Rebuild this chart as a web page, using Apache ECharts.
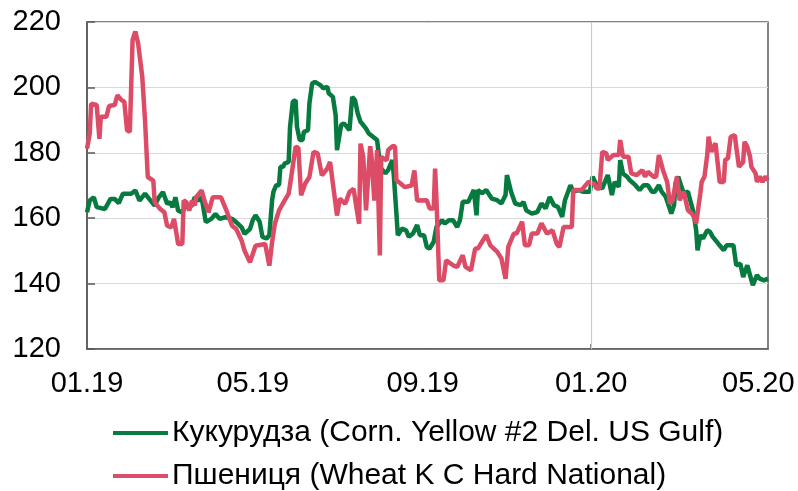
<!DOCTYPE html>
<html>
<head>
<meta charset="utf-8">
<title>Кукурудза та пшениця</title>
<script src="https://cdn.jsdelivr.net/npm/echarts@6/dist/echarts.min.js"></script>
<style>
  html, body { margin: 0; padding: 0; background: #fff; }
  #chart { width: 798px; height: 491px; }
</style>
</head>
<body>
<div id="chart"></div>
<script>
// days counted from 01.01.2019
const cornDays = [
  0, 2, 5, 7, 13, 17, 20, 23, 26, 32, 35, 38, 42, 46, 49, 52, 55, 58, 60, 62,
  64, 66, 69, 71, 76, 78, 81, 83, 86, 90, 93, 96, 100, 105, 108, 112, 114, 118, 120, 122,
  125, 127, 130, 132, 134, 135, 137, 139, 140, 142, 143, 146, 147, 149, 151, 152, 154, 156, 157, 160,
  161, 163, 165, 169, 171, 174, 175, 178, 180, 181, 182, 184, 186, 188, 190, 192, 194, 196, 198, 200,
  202, 204, 207, 210, 212, 213, 216, 218, 221, 222, 224, 225, 228, 231, 233, 236, 239, 241, 244, 246,
  248, 251, 253, 257, 259, 262, 265, 268, 270, 272, 276, 280, 282, 283, 286, 289, 293, 297, 300, 303,
  304, 307, 310, 314, 316, 318, 322, 326, 329, 332, 335, 338, 341, 344, 346, 350, 352, 356, 359, 364,
  366, 369, 373, 376, 377, 380, 382, 385, 386, 388, 391, 393, 397, 400, 403, 406, 409, 411, 414, 416,
  419, 421, 423, 425, 426, 428, 430, 432, 435, 437, 439, 441, 442, 444, 446, 449, 451, 453, 457, 461,
  463, 468, 470, 473, 475, 478, 480, 482, 485, 487, 490, 493
];
const cornValues = [
  161.8, 165.4, 166.4, 163.4, 162.8, 165.9, 165.9, 164.6, 167.5, 167.5, 168.5, 165.4, 167.5, 165.4, 163.9, 166.4, 168, 164.4, 164.9, 163.4,
  166.4, 162.3, 161.8, 163.4, 163.9, 166.4, 165.4, 166.4, 158.8, 159.8, 161.3, 159.8, 160.3, 159.8, 158.8, 157.2, 155.2, 156.7, 159.4, 160.9,
  158.9, 154.3, 153.8, 154.8, 165.5, 168.1, 170.1, 170.1, 175.7, 175.7, 176.7, 177.2, 188, 195.6, 196.1, 188, 183.9, 183.9, 186.4, 186.9,
  195.1, 201.2, 201.7, 200.7, 199.7, 200.2, 198.2, 197.1, 191.5, 180.8, 180.3, 188.5, 189, 188, 186.9, 197.1, 196.1, 192, 189.5, 188.5,
  187.4, 185.9, 184.9, 183.9, 176.7, 175.2, 173.7, 174.7, 177.8, 173.7, 161.4, 154.8, 156.8, 156.3, 154.3, 155.3, 157.9, 154.8, 154.8, 151.2,
  150.7, 152.8, 157.3, 159.4, 158.4, 159.4, 159.4, 157.3, 159.4, 165, 165, 168.6, 160.9, 168.6, 167.6, 168.6, 166, 165.5, 164.5, 167.1,
  173.2, 168.1, 164.5, 164, 165, 162.4, 161.4, 161.9, 164.5, 163, 166.5, 164, 163.4, 160.4, 165.5, 170.1, 168.1, 168.6, 168.1, 168.1,
  172.7, 170.1, 169.1, 172.2, 173.2, 167.1, 171.1, 169.6, 177.8, 173.7, 172.7, 171.6, 170.1, 168.6, 170.1, 170.1, 168.1, 168.1, 170.1, 168.1,
  166.5, 164, 161.4, 164, 170.6, 172.7, 170.1, 167.6, 168.1, 165, 161.9, 156.3, 150.2, 154.8, 153.8, 156.3, 155.8, 154.3, 152.2, 150.2,
  151.7, 151.7, 145.6, 146.1, 142, 145.6, 142.6, 139.5, 142.6, 141.5, 141, 141.5
];

const wheatDays = [
  0, 2, 3, 7, 9, 10, 14, 16, 20, 22, 25, 27, 29, 31, 33, 35, 37, 40, 42, 44,
  48, 49, 53, 56, 58, 61, 63, 66, 69, 70, 72, 74, 76, 78, 79, 83, 85, 88, 91, 97,
  101, 105, 108, 112, 114, 118, 122, 129, 132, 134, 136, 139, 143, 146, 148, 151, 153, 155, 158, 161,
  164, 167, 170, 174, 176, 178, 181, 183, 187, 190, 193, 195, 197, 198, 200, 202, 205, 206, 208, 210,
  212, 213, 217, 218, 221, 223, 224, 227, 230, 235, 237, 239, 246, 248, 251, 252, 253, 255, 258, 260,
  265, 268, 272, 274, 278, 281, 283, 286, 289, 292, 297, 300, 303, 305, 309, 311, 315, 316, 317, 320,
  322, 326, 329, 333, 337, 340, 342, 345, 351, 352, 358, 363, 367, 369, 371, 373, 376, 377, 381, 385,
  386, 388, 392, 394, 398, 402, 404, 406, 410, 412, 414, 417, 420, 422, 424, 427, 429, 432, 435, 438,
  440, 441, 444, 445, 447, 449, 450, 452, 453, 455, 457, 458, 461, 462, 464, 466, 469, 470, 472, 475,
  476, 478, 480, 481, 484, 485, 487, 489, 491, 493
];
const wheatValues = [
  181.3, 185.9, 195, 194.6, 184.3, 191, 191, 194.3, 194.6, 197.6, 196.1, 195.6, 186.9, 186.4, 214.5, 217.1, 213.5, 203.3, 190, 172.6,
  171.5, 164.9, 162.8, 161.8, 157.7, 157.2, 159.8, 152.1, 152.1, 165.4, 164.9, 162.3, 165.4, 163.9, 166.4, 168.5, 165.4, 161.8, 166.4, 166.4,
  162.3, 157.7, 156.7, 153.1, 150.1, 146.5, 151.6, 152.1, 145.5, 152.7, 158.3, 162.4, 165.4, 167.5, 173.1, 181.8, 181.6, 167, 170.6, 172.6,
  180.3, 179.8, 173.1, 175.2, 177.2, 170.6, 160.8, 166, 164.4, 168, 169, 163.4, 158.3, 182.8, 178.7, 162.4, 182, 178.7, 165.4, 180.8,
  148.6, 178.7, 177.7, 180.8, 182, 182, 171.6, 170.6, 169.5, 170, 174.6, 165.4, 165.5, 163, 163, 175.2, 165.5, 141, 141, 147.1,
  145.6, 145.1, 148.7, 145.1, 144.1, 150.7, 150.7, 152.8, 154.8, 151.7, 149.7, 147.7, 141.5, 151.2, 155.3, 155.3, 158.9, 159.4, 151.7, 151.7,
  155.3, 155.3, 158.4, 155.3, 156.3, 152.2, 151.2, 157.3, 157.3, 168.6, 168.6, 171.1, 170.6, 169.1, 169.1, 180.3, 179.8, 177.8, 179.3, 179.3,
  183.9, 178.8, 178.8, 173.7, 173.2, 174.7, 172.7, 174.2, 172.7, 172.7, 179.3, 174.7, 171.1, 164.5, 165.5, 172.7, 165.5, 168.1, 162.4, 161.4,
  159.9, 158.4, 167.6, 171.1, 172.7, 179.3, 184.9, 180.3, 180.8, 182.9, 175.2, 171.1, 171.1, 177.8, 178.3, 184.9, 185.4, 181.8, 175.7, 177.2,
  183.4, 181.8, 178.8, 175.7, 173.7, 171.1, 172.7, 171.1, 172.7, 171.6
];

const seriesNames = [
  "Кукурудза (Corn. Yellow #2 Del. US Gulf)",
  "Пшениця (Wheat K C Hard National)"
];
// 01.19, 05.19, 09.19, 01.20, 05.20 as days from 01.01.2019
const labelDays = [0, 120, 243, 365, 486];
const yearMarkDay = 365;
const lastDay = 493;

const dayToDate = (n) => new Date(2019, 0, 1 + n);

const cornData = cornDays.map((d, i) => [d, cornValues[i]]);
const wheatData = wheatDays.map((d, i) => [d, wheatValues[i]]);

const font = "'Liberation Sans', Arial, sans-serif";
const frameColor = "#595959";
const cornColor = "#067a3f";
const wheatColor = "#dc4c66";

function legendRow(name, top) {
  return {
    data: [name],
    left: 113,
    top: top,
    padding: 0,
    icon: "rect",
    itemWidth: 55,
    itemHeight: 4,
    itemGap: 0,
    selectedMode: false,
    textStyle: { fontSize: 30, color: "#000", fontFamily: font, padding: [0, 0, 0, -1] }
  };
}

const chart = echarts.init(document.getElementById("chart"));

chart.setOption({
  animation: false,
  backgroundColor: "#fff",
  textStyle: { fontFamily: font },
  grid: {
    left: 87, right: 30, top: 22, bottom: 142,
    show: true, borderColor: frameColor, borderWidth: 1.5,
    containLabel: false
  },
  legend: [legendRow(seriesNames[0], 418), legendRow(seriesNames[1], 461)],
  xAxis: {
    type: "value",
    min: 0,
    max: lastDay,
    axisLine: { show: true, lineStyle: { color: frameColor, width: 1.5 } },
    axisTick: {
      show: true, inside: true, length: 5,
      customValues: [yearMarkDay],
      lineStyle: { color: frameColor, width: 1.5 }
    },
    axisLabel: {
      customValues: labelDays,
      fontSize: 29, color: "#000", margin: 20, fontFamily: font,
      formatter: (v) => {
        const d = dayToDate(v);
        const m = String(d.getMonth() + 1).padStart(2, "0");
        const y = String(d.getFullYear()).slice(2);
        return m + "." + y;
      }
    },
    splitLine: { show: false }
  },
  yAxis: {
    type: "value",
    min: 120, max: 220, interval: 20,
    axisLine: { show: true, lineStyle: { color: frameColor, width: 1.5 } },
    axisTick: { show: true, inside: true, length: 8, lineStyle: { color: frameColor, width: 1.5 } },
    axisLabel: { fontSize: 29, color: "#000", margin: 26, fontFamily: font },
    splitLine: { show: true, lineStyle: { color: "#d9d9d9", width: 1 } }
  },
  series: [
    {
      name: seriesNames[0],
      type: "line",
      data: cornData,
      symbol: "none",
      lineStyle: { color: cornColor, width: 4.5 },
      itemStyle: { color: cornColor },
      markLine: {
        silent: true,
        symbol: "none",
        label: { show: false },
        lineStyle: { color: "#c9cdd3", width: 1.2, type: "solid" },
        data: [{ xAxis: yearMarkDay }]
      }
    },
    {
      name: seriesNames[1],
      type: "line",
      data: wheatData,
      symbol: "none",
      lineStyle: { color: wheatColor, width: 4.5 },
      itemStyle: { color: wheatColor }
    }
  ]
});
</script>
</body>
</html>
